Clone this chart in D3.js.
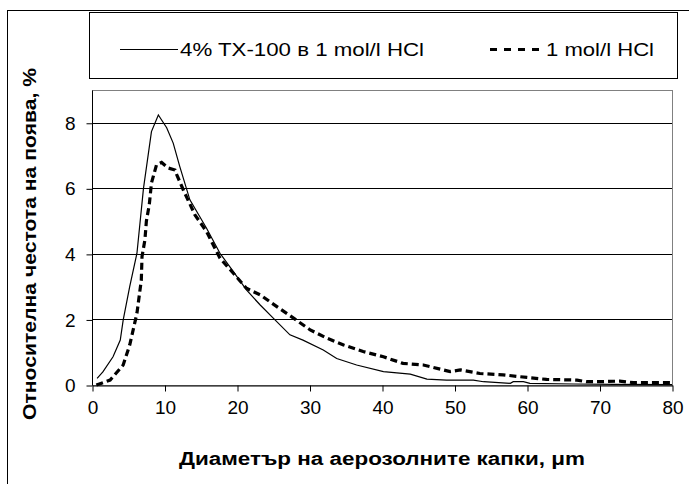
<!DOCTYPE html>
<html>
<head>
<meta charset="utf-8">
<script src="https://cdn.jsdelivr.net/npm/d3@7"></script>
<style>
  body { margin: 0; background: #fff; }
  text { font-family: "Liberation Sans", Arial, sans-serif; fill: #000; }
</style>
</head>
<body>
<svg width="689" height="484"></svg>
<script>
// 4% TX-100 in 1 mol/l HCl: [diameter, frequency %]
var tx100 = [
  [0.7, 0.2], [1.5, 0.4], [2.9, 0.86], [3.9, 1.37], [4.3, 1.98], [5.2, 3.0],
  [6.2, 4.02], [7.1, 6.0], [8.2, 7.73], [9.15, 8.24], [10.3, 7.85], [11.2, 7.38],
  [12.1, 6.67], [13.5, 5.65], [15.8, 4.78], [17.65, 4.02], [19.5, 3.46], [21.3, 2.9],
  [23.2, 2.44], [25.0, 2.04], [27.3, 1.53], [29.1, 1.37], [31.9, 1.07], [33.75, 0.81],
  [36.5, 0.61], [40.2, 0.41], [43.9, 0.33], [46.2, 0.18], [48.9, 0.15], [52.6, 0.15],
  [54, 0.1], [57.7, 0.05], [58.1, 0.1], [59.5, 0.1], [60.4, 0.05], [66.4, 0.03],
  [72, 0.02], [80, 0.01]
];

// 1 mol/l HCl
var hcl = [
  [0.6, 0], [2.5, 0.15], [4.3, 0.61], [5.2, 1.22], [6.2, 2.19], [6.8, 3.2],
  [6.9, 3.92], [7.3, 4.43], [7.5, 5.0], [7.9, 5.5], [8.2, 6.16], [8.9, 6.72],
  [9.6, 6.79], [10.5, 6.62], [11.45, 6.56], [11.7, 6.41], [12.6, 5.95], [14.2, 5.19],
  [15.8, 4.68], [17.65, 3.87], [19.5, 3.41], [21.3, 2.95], [23.2, 2.75], [25.5, 2.39],
  [27.8, 2.04], [30.1, 1.68], [32.4, 1.43], [34.7, 1.22], [37.4, 1.02], [40.2, 0.86],
  [42.9, 0.66], [45.7, 0.61], [49.4, 0.41], [50.8, 0.46], [53.5, 0.35], [56.7, 0.31],
  [60.0, 0.23], [62.7, 0.17], [66.9, 0.15], [68.2, 0.1], [70.1, 0.1], [72.8, 0.12],
  [74.7, 0.07], [80, 0.07]
];

var xTicks = [0, 10, 20, 30, 40, 50, 60, 70, 80];
var yTicks = [0, 2, 4, 6, 8];
var seriesNames = ['4% TX-100 в 1 mol/l HCl', '1 mol/l HCl'];

var svg = d3.select('svg');

var plotL = 92, plotR = 672, plotT = 90, plotB = 385;

var x = d3.scaleLinear().domain([0, 80]).range([plotL, plotR]);
var y = d3.scaleLinear().domain([0, 9]).range([plotB, plotT]);

// outer chart frame (runs off the right and bottom edges)
svg.append('rect')
  .attr('x', 7.5).attr('y', 10.5)
  .attr('width', 720).attr('height', 520)
  .attr('fill', 'none').attr('stroke', '#000');

// plot area frame
svg.append('rect')
  .attr('x', plotL + 0.5).attr('y', plotT + 0.5)
  .attr('width', plotR - plotL).attr('height', plotB - plotT)
  .attr('fill', 'none').attr('stroke', '#808080');

// gridlines
svg.append('g')
  .selectAll('line')
  .data(yTicks.filter(function(d) { return d > 0; }))
  .enter()
  .append('line')
  .attr('x1', plotL).attr('x2', plotR)
  .attr('y1', function(d) { return Math.round(y(d)) + 0.5; })
  .attr('y2', function(d) { return Math.round(y(d)) + 0.5; })
  .attr('stroke', '#000');

var xAxis = svg.append('g')
  .attr('transform', 'translate(0.5,' + (plotB + 0.5) + ')')
  .call(d3.axisBottom(x).tickValues(xTicks).tickSizeInner(6).tickSizeOuter(0).tickPadding(9));

var yAxis = svg.append('g')
  .attr('transform', 'translate(' + (plotL + 0.5) + ',0.5)')
  .call(d3.axisLeft(y).tickValues(yTicks).tickSizeInner(6).tickSizeOuter(0).tickPadding(11));

[xAxis, yAxis].forEach(function(a) {
  a.select('.domain').attr('stroke', '#000');
  a.selectAll('.tick line').attr('stroke', '#000');
  a.selectAll('.tick text')
    .attr('font-family', '"Liberation Sans", Arial, sans-serif')
    .attr('font-size', 19);
});
yAxis.select('.domain').attr('d', 'M0,' + plotT + 'V' + plotB);

var line = d3.line()
  .x(function(d) { return x(d[0]); })
  .y(function(d) { return y(d[1]); });

svg.append('path')
  .datum(hcl)
  .attr('d', line)
  .attr('fill', 'none')
  .attr('stroke', '#000')
  .attr('stroke-width', 3.2)
  .attr('stroke-dasharray', '7,4');

svg.append('path')
  .datum(tx100)
  .attr('d', line)
  .attr('fill', 'none')
  .attr('stroke', '#000')
  .attr('stroke-width', 1.2);

// axis titles
svg.append('text')
  .attr('x', (plotL + plotR) / 2)
  .attr('y', 465)
  .attr('text-anchor', 'middle')
  .attr('font-size', 18)
  .attr('font-weight', 'bold')
  .attr('textLength', 406)
  .attr('lengthAdjust', 'spacingAndGlyphs')
  .text('Диаметър на аерозолните капки, μm');

svg.append('text')
  .attr('transform', 'translate(36,244) rotate(-90)')
  .attr('text-anchor', 'middle')
  .attr('font-size', 18)
  .attr('font-weight', 'bold')
  .attr('textLength', 352)
  .attr('lengthAdjust', 'spacingAndGlyphs')
  .text('Относителна честота на поява, %');

// legend
var legend = svg.append('g');
legend.append('rect')
  .attr('x', 89.5).attr('y', 12.5)
  .attr('width', 588).attr('height', 66)
  .attr('fill', '#fff').attr('stroke', '#000');

legend.append('line')
  .attr('x1', 120).attr('x2', 178)
  .attr('y1', 49.5).attr('y2', 49.5)
  .attr('stroke', '#000').attr('stroke-width', 1.2);
legend.append('text')
  .attr('x', 180).attr('y', 56)
  .attr('font-size', 19)
  .attr('textLength', 244)
  .attr('lengthAdjust', 'spacingAndGlyphs')
  .text(seriesNames[0]);

legend.append('line')
  .attr('x1', 490).attr('x2', 543)
  .attr('y1', 49.5).attr('y2', 49.5)
  .attr('stroke', '#000').attr('stroke-width', 3.2)
  .attr('stroke-dasharray', '7,7');
legend.append('text')
  .attr('x', 546).attr('y', 56)
  .attr('font-size', 19)
  .attr('textLength', 108)
  .attr('lengthAdjust', 'spacingAndGlyphs')
  .text(seriesNames[1]);
</script>
</body>
</html>
